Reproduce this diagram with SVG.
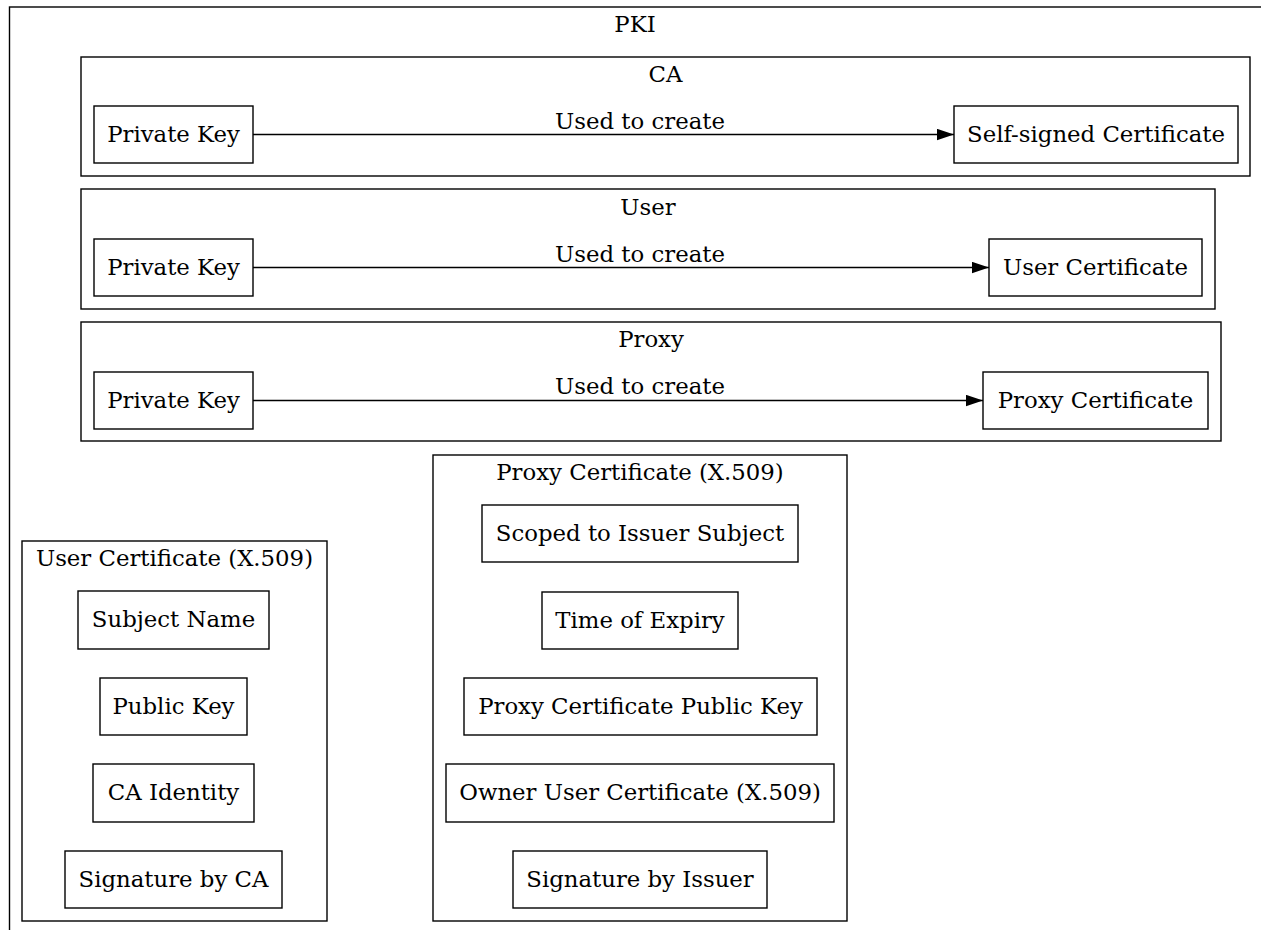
<svg xmlns="http://www.w3.org/2000/svg" width="1261" height="930" viewBox="0 0 1261 930">
  <style>
    text { font-family: "DejaVu Serif", "Liberation Serif", serif; font-size: 22.8px; fill: #000; text-anchor: middle; }
    .cluster { fill: none; stroke: #000; stroke-width: 1.4; }
    .node rect { fill: #fff; stroke: #000; stroke-width: 1.4; }
    .edge { fill: none; stroke: #000; stroke-width: 1.4; }
  </style>
  <defs>
    <marker id="arrow" markerWidth="17" markerHeight="12" refX="17" refY="6" orient="auto" markerUnits="userSpaceOnUse">
      <path d="M0,0.3 L17,6 L0,11.7 Z" fill="#000"/>
    </marker>
  </defs>
  <rect width="1261" height="930" fill="#fff"/>

  <!-- PKI outer cluster (extends past the canvas on the right and bottom) -->
  <g id="cluster_pki">
    <rect class="cluster" x="9.5" y="7" width="1262" height="940"/>
    <text x="635" y="32">PKI</text>
  </g>

  <!-- CA cluster -->
  <g id="cluster_ca">
    <rect class="cluster" x="81" y="57" width="1169" height="119"/>
    <text x="665.5" y="82">CA</text>
  </g>
  <g id="ca_private_key" class="node">
    <rect x="94" y="106" width="159" height="57"/>
    <text x="173.5" y="142">Private Key</text>
  </g>
  <g id="ca_self_signed_cert" class="node">
    <rect x="954" y="106" width="284" height="57"/>
    <text x="1096" y="142">Self-signed Certificate</text>
  </g>

  <!-- User cluster -->
  <g id="cluster_user">
    <rect class="cluster" x="81" y="189" width="1134" height="120"/>
    <text x="648" y="215">User</text>
  </g>
  <g id="user_private_key" class="node">
    <rect x="94" y="239" width="159" height="57"/>
    <text x="173.5" y="275">Private Key</text>
  </g>
  <g id="user_cert" class="node">
    <rect x="989" y="239" width="213" height="57"/>
    <text x="1095.5" y="275">User Certificate</text>
  </g>

  <!-- Proxy cluster -->
  <g id="cluster_proxy">
    <rect class="cluster" x="81" y="322" width="1140" height="119"/>
    <text x="651" y="347">Proxy</text>
  </g>
  <g id="proxy_private_key" class="node">
    <rect x="94" y="372" width="159" height="57"/>
    <text x="173.5" y="408">Private Key</text>
  </g>
  <g id="proxy_cert" class="node">
    <rect x="983" y="372" width="225" height="57"/>
    <text x="1095.5" y="408">Proxy Certificate</text>
  </g>

  <!-- User Certificate (X.509) cluster -->
  <g id="cluster_user_x509">
    <rect class="cluster" x="22" y="541" width="305" height="380"/>
    <text x="174.5" y="566">User Certificate (X.509)</text>
  </g>
  <g id="subject_name" class="node">
    <rect x="78" y="591" width="191" height="58"/>
    <text x="173.5" y="627">Subject Name</text>
  </g>
  <g id="public_key" class="node">
    <rect x="100" y="678" width="147" height="57"/>
    <text x="173.5" y="714">Public Key</text>
  </g>
  <g id="ca_identity" class="node">
    <rect x="93" y="764" width="161" height="58"/>
    <text x="173.5" y="800">CA Identity</text>
  </g>
  <g id="signature_by_ca" class="node">
    <rect x="65" y="851" width="217" height="57"/>
    <text x="173.5" y="887">Signature by CA</text>
  </g>

  <!-- Proxy Certificate (X.509) cluster -->
  <g id="cluster_proxy_x509">
    <rect class="cluster" x="433" y="455" width="414" height="466"/>
    <text x="640" y="480">Proxy Certificate (X.509)</text>
  </g>
  <g id="scoped_to_issuer" class="node">
    <rect x="482" y="505" width="316" height="57"/>
    <text x="640" y="541">Scoped to Issuer Subject</text>
  </g>
  <g id="time_of_expiry" class="node">
    <rect x="542" y="592" width="196" height="57"/>
    <text x="640" y="628">Time of Expiry</text>
  </g>
  <g id="proxy_public_key" class="node">
    <rect x="464" y="678" width="353" height="57"/>
    <text x="640.5" y="714">Proxy Certificate Public Key</text>
  </g>
  <g id="owner_user_cert" class="node">
    <rect x="446" y="764" width="388" height="58"/>
    <text x="640" y="800">Owner User Certificate (X.509)</text>
  </g>
  <g id="signature_by_issuer" class="node">
    <rect x="513" y="851" width="254" height="57"/>
    <text x="640" y="887">Signature by Issuer</text>
  </g>

  <!-- Connectors -->
  <g id="connectors">
    <path class="edge" d="M253,134.5 L954,134.5" marker-end="url(#arrow)"/>
    <text x="640" y="129">Used to create</text>
    <path class="edge" d="M253,267.5 L989,267.5" marker-end="url(#arrow)"/>
    <text x="640" y="262">Used to create</text>
    <path class="edge" d="M253,400.5 L983,400.5" marker-end="url(#arrow)"/>
    <text x="640" y="394">Used to create</text>
  </g>
</svg>
